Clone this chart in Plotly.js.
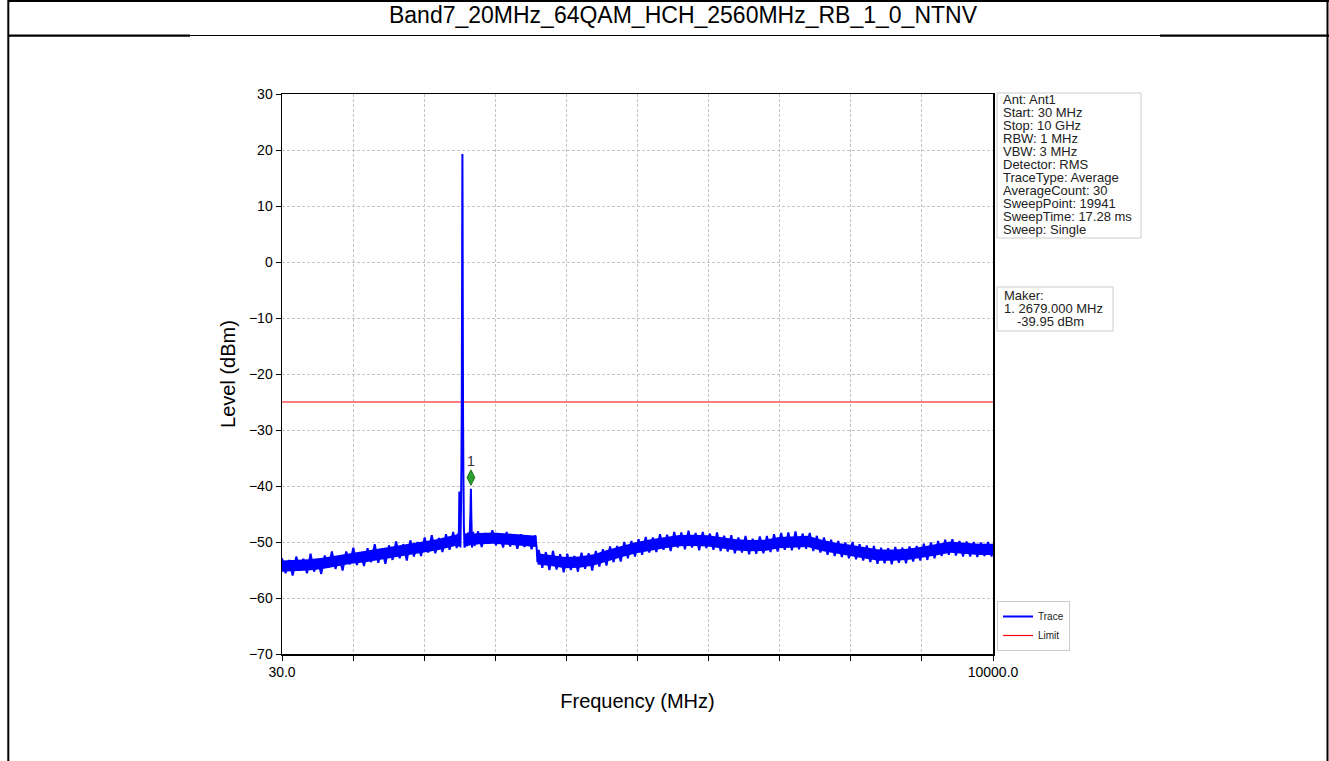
<!DOCTYPE html>
<html>
<head>
<meta charset="utf-8">
<script src="https://cdn.plot.ly/plotly-3.0.1.min.js"></script>
<style>
  html, body { margin: 0; padding: 0; background: #ffffff; }
  #chart { width: 1329px; height: 761px; }
</style>
</head>
<body>
<div id="chart"></div>
<script>
// ---------------- DATA ----------------
const chartTitle = 'Band7_20MHz_64QAM_HCH_2560MHz_RB_1_0_NTNV';

// Trace: noise floor, 30 MHz .. 2480 MHz (peak / valley readings)
const freqA = [30,80,130,180,230,280,330,380,430,480,
               530,580,630,680,730,780,830,880,930,980,
               1030,1080,1130,1180,1230,1280,1330,1380,1430,1480,
               1530,1580,1630,1680,1730,1780,1830,1880,1930,1980,
               2030,2080,2130,2180,2230,2280,2330,2380,2430,2480];
const levelA = [-52.9,-55.6,-53.2,-56.0,-52.6,-55.1,-53.0,-55.6,-52.1,-55.3,
                -53.2,-55.7,-52.4,-54.6,-51.7,-54.8,-52.6,-55.1,-51.7,-54.0,
                -51.0,-54.1,-51.9,-54.3,-51.1,-53.6,-50.4,-53.7,-51.2,-53.9,
                -50.6,-53.2,-49.9,-52.9,-50.4,-53.3,-49.7,-52.6,-50.0,-52.5,
                -49.2,-51.9,-48.8,-52.0,-49.3,-51.8,-48.6,-51.4,-48.2,-51.1];

// Trace: carrier region around 2560 MHz
const freqB = [2495,2505,2512,2517,2521,2526,2532,2540,2546,2551,
               2555,2558,2560,2562,2565,2569,2574,2580,2590,2605,
               2620,2635,2650,2662,2672,2679,2685,2695,2710];
const levelB = [-48.5,-50.8,-47.0,-41.0,-41.2,-46.5,-51.0,-44.0,-36.0,-25.0,
                -5.0,12.0,19.3,10.0,-8.0,-28.0,-38.0,-47.0,-51.0,-48.5,
                -50.8,-48.3,-50.6,-48.6,-45.0,-40.5,-45.5,-51.0,-48.2];

// Trace: 2730 MHz .. step near 3605 MHz
const freqC = [2730,2780,2830,2880,2930,2980,3030,3080,3130,3180,
               3230,3280,3330,3380,3430,3480,3530,3580,3600,3612];
const levelC = [-50.7,-48.1,-50.9,-48.4,-50.3,-47.9,-50.6,-48.5,-51.0,-48.2,
                -50.8,-48.7,-51.2,-48.6,-50.9,-48.9,-51.3,-48.8,-50.9,-53.6];

// Trace: 3630 MHz .. 10000 MHz
const freqD = [3630,3680,3730,3780,3830,3880,3930,3980,4030,4080,
               4130,4180,4230,4280,4330,4380,4430,4480,4530,4580,
               4630,4680,4730,4780,4830,4880,4930,4980,5030,5080,
               5130,5180,5230,5280,5330,5380,5430,5480,5530,5580,
               5630,5680,5730,5780,5830,5880,5930,5980,6030,6080,
               6130,6180,6230,6280,6330,6380,6430,6480,6530,6580,
               6630,6680,6730,6780,6830,6880,6930,6980,7030,7080,
               7130,7180,7230,7280,7330,7380,7430,7480,7530,7580,
               7630,7680,7730,7780,7830,7880,7930,7980,8030,8080,
               8130,8180,8230,8280,8330,8380,8430,8480,8530,8580,
               8630,8680,8730,8780,8830,8880,8930,8980,9030,9080,
               9130,9180,9230,9280,9330,9380,9430,9480,9530,9580,
               9630,9680,9730,9780,9830,9880,9930,9980,10000];
const levelD = [-51.4,-54.6,-51.8,-55.0,-51.6,-54.9,-52.2,-55.4,-52.1,-55.0,
                -52.5,-55.3,-51.9,-54.8,-52.0,-55.1,-51.6,-54.4,-51.3,-54.2,
                -50.8,-53.6,-50.7,-53.5,-50.0,-52.9,-49.8,-52.6,-49.5,-52.3,
                -49.1,-51.9,-49.2,-51.8,-48.6,-51.4,-48.7,-51.6,-48.2,-51.0,
                -48.3,-51.3,-48.0,-51.0,-48.4,-51.5,-48.2,-51.1,-48.5,-51.4,
                -48.3,-51.6,-48.9,-51.7,-48.8,-52.0,-49.2,-51.9,-48.9,-52.2,
                -49.4,-52.1,-49.0,-52.0,-48.9,-51.8,-48.6,-51.7,-48.4,-51.4,
                -48.3,-51.5,-48.1,-51.3,-48.5,-51.2,-48.4,-51.6,-48.9,-51.9,
                -49.2,-52.3,-49.6,-52.5,-49.8,-52.7,-50.1,-52.9,-50.0,-53.1,
                -50.4,-53.3,-50.6,-53.6,-50.7,-53.9,-51.0,-53.8,-51.1,-54.0,
                -50.9,-53.7,-51.0,-53.8,-50.8,-53.5,-50.7,-53.3,-50.3,-53.2,
                -50.1,-52.9,-49.8,-52.5,-49.6,-52.3,-49.5,-52.4,-49.8,-52.6,
                -49.9,-52.6,-50.0,-52.7,-50.1,-52.5,-50.0,-52.6,-51.0];

// Solid core of the noise band (upper / lower edge readings)
const bandFreq1  = [30,200,400,600,800,1000,1200,1400,1600,1800,2000,2200,2400,2500];
const bandUpper1 = [-53.3,-53.25,-53.1,-52.8,-52.4,-51.9,-51.6,-51.2,-50.8,-50.35,-49.9,-49.5,-48.9,-48.6];
const bandLower1 = [-55.3,-55.25,-55.1,-54.8,-54.4,-53.9,-53.6,-53.2,-52.8,-52.35,-51.9,-51.5,-50.9,-50.6];
const bandFreq2  = [2580,2800,3000,3200,3400,3600];
const bandUpper2 = [-48.7,-48.4,-48.3,-48.5,-48.7,-48.9];
const bandLower2 = [-50.7,-50.4,-50.3,-50.5,-50.7,-50.9];
const bandFreq3  = [3612,3800,4000,4200,4400,4600,4800,5000,5200,5400,5600,5800,6000,6200,6400,6600,
                    6800,7000,7200,7400,7600,7800,8000,8200,8400,8600,8800,9000,9200,9400,9600,9800,10000];
const bandUpper3 = [-52.0,-52.3,-52.7,-52.6,-52.2,-51.4,-50.7,-50.0,-49.5,-49.1,-48.75,-48.7,-48.8,-49.15,-49.5,-49.65,
                    -49.6,-49.1,-49.0,-48.9,-49.6,-50.15,-50.5,-50.95,-51.35,-51.35,-51.2,-50.85,-50.4,-49.9,-50.15,-50.3,-50.3];
const bandLower3 = [-54.0,-54.3,-54.7,-54.6,-54.2,-53.4,-52.7,-52.0,-51.5,-51.1,-50.75,-50.7,-50.8,-51.15,-51.5,-51.65,
                    -51.6,-51.1,-51.0,-50.9,-51.6,-52.15,-52.5,-52.95,-53.35,-53.35,-53.2,-52.85,-52.4,-51.9,-52.15,-52.3,-52.3];

// Limit line
const limitFreq = [30, 10000];
const limitLevel = [-25, -25];

// Marker 1
const markerFreq = [2679];
const markerLevel = [-38.5];
const markerLabel = ['1'];

// Axis ticks
const xTickVals = [30, 1027, 2024, 3021, 4018, 5015, 6012, 7009, 8006, 9003, 10000];
const xTickText = ['30.0', '', '', '', '', '', '', '', '', '', '10000.0'];
const yTickVals = [-70, -60, -50, -40, -30, -20, -10, 0, 10, 20, 30];

// Info boxes
const infoLines = ['Ant: Ant1', 'Start: 30 MHz', 'Stop: 10 GHz', 'RBW: 1 MHz', 'VBW: 3 MHz',
                   'Detector: RMS', 'TraceType: Average', 'AverageCount: 30',
                   'SweepPoint: 19941', 'SweepTime: 17.28 ms', 'Sweep: Single'];
const makerLines = ['Maker:', '1. 2679.000 MHz', '-39.95 dBm'];

// ---------------- BUILD ----------------
const traceFreq = [].concat(freqA, freqB, freqC, freqD);
const traceLevel = [].concat(levelA, levelB, levelC, levelD);

// band polygons (upper forward, lower backward), segments separated by null
const bandX = [], bandY = [];
[[bandFreq1, bandUpper1, bandLower1], [bandFreq2, bandUpper2, bandLower2], [bandFreq3, bandUpper3, bandLower3]]
  .forEach(([f, u, l], k) => {
    if (k > 0) { bandX.push(null); bandY.push(null); }
    bandX.push(...f, ...f.slice().reverse());
    bandY.push(...u, ...l.slice().reverse());
  });

// pixel geometry helpers (plot area 282..993 x 94..654)
const L = 282, R = 993, T = 94, B = 654;
const W = 1329, H = 761;
const px = x => (x - L) / (R - L);
const py = y => (B - y) / (B - T);

const FONT = 'Liberation Sans, Arial, Helvetica, sans-serif';
const BLUE = '#0000ff';

const traces = [
  {
    x: limitFreq, y: limitLevel, type: 'scatter', mode: 'lines',
    name: 'Limit', line: { color: '#ff0000', width: 1.2 }, hoverinfo: 'skip'
  },
  {
    x: bandX, y: bandY, type: 'scatter', mode: 'lines', fill: 'toself',
    fillcolor: BLUE, line: { width: 0, color: BLUE }, connectgaps: false,
    legendgroup: 'trace', showlegend: false, hoverinfo: 'skip'
  },
  {
    x: traceFreq, y: traceLevel, type: 'scatter', mode: 'lines',
    name: 'Trace', legendgroup: 'trace',
    line: { color: BLUE, width: 2, simplify: false }, hoverinfo: 'skip'
  },
  {
    x: markerFreq, y: markerLevel, type: 'scatter', mode: 'markers+text',
    text: markerLabel, textposition: 'top center',
    textfont: { family: FONT, size: 14, color: '#333333' },
    marker: { symbol: 'diamond-tall', size: 11, color: '#2ca02c', line: { color: '#1a6e1a', width: 1 } },
    showlegend: false, hoverinfo: 'skip', cliponaxis: false
  }
];

const shapes = [];
const annotations = [];

// document-table frame
const frameLine = (x0, y0, x1, y1, w) => shapes.push({
  type: 'line', xref: 'paper', yref: 'paper',
  x0: px(x0), y0: py(y0), x1: px(x1), y1: py(y1),
  line: { color: '#000000', width: w }
});
frameLine(8.3, 0, 8.3, H, 2);
frameLine(1327.5, 0, 1327.5, H, 2);
frameLine(8, 1, W, 1, 2);
frameLine(8, 35.7, 190, 35.7, 2.2);
frameLine(190, 35.5, 1160, 35.5, 1.2);
frameLine(1160, 35.7, W, 35.7, 2.2);

// info box
shapes.push({
  type: 'rect', xref: 'paper', yref: 'paper',
  x0: px(997), x1: px(1141), y0: py(238), y1: py(93),
  line: { color: '#cccccc', width: 1 }, fillcolor: 'rgba(255,255,255,0.9)'
});
infoLines.forEach((t, i) => annotations.push({
  xref: 'paper', yref: 'paper', x: px(1001), y: py(100 + 12.9 * i),
  xanchor: 'left', yanchor: 'middle', showarrow: false, text: t,
  font: { family: FONT, size: 13, color: '#222222' }
}));

// maker box
shapes.push({
  type: 'rect', xref: 'paper', yref: 'paper',
  x0: px(997), x1: px(1113), y0: py(331), y1: py(287),
  line: { color: '#cccccc', width: 1 }, fillcolor: 'rgba(255,255,255,0.9)'
});
makerLines.forEach((t, i) => annotations.push({
  xref: 'paper', yref: 'paper', x: px(i === 2 ? 1015 : 1002), y: py(295 + 13 * i),
  xanchor: 'left', yanchor: 'middle', showarrow: false, text: t,
  font: { family: FONT, size: 13, color: '#222222' }
}));

const layout = {
  width: W, height: H,
  paper_bgcolor: '#ffffff', plot_bgcolor: '#ffffff',
  margin: { l: L, r: W - R, t: T, b: H - B, pad: 0 },
  font: { family: FONT, color: '#000000' },
  title: {
    text: chartTitle, xref: 'container', yref: 'container',
    x: 683 / W, xanchor: 'center', y: 1 - 15 / H, yanchor: 'middle',
    font: { family: FONT, size: 23, color: '#000000' }
  },
  showlegend: true,
  legend: {
    x: px(997), xanchor: 'left', y: py(651), yanchor: 'bottom',
    bgcolor: 'rgba(255,255,255,0.9)', bordercolor: '#cccccc', borderwidth: 1,
    font: { family: FONT, size: 10, color: '#222222' },
    traceorder: 'reversed', itemwidth: 30
  },
  xaxis: {
    range: [30, 10000], tickmode: 'array', tickvals: xTickVals, ticktext: xTickText,
    ticks: 'outside', ticklen: 5, tickwidth: 1, tickcolor: '#000000',
    showline: true, linecolor: '#000000', linewidth: 1.5, mirror: true,
    showgrid: true, gridcolor: '#c4c4c4', gridwidth: 1, griddash: '3px,2px',
    zeroline: false, automargin: true,
    tickfont: { family: FONT, size: 14, color: '#000000' },
    title: { text: 'Frequency (MHz)', standoff: 14, font: { family: FONT, size: 20, color: '#000000' } }
  },
  yaxis: {
    range: [-70, 30], tickmode: 'array', tickvals: yTickVals,
    ticks: 'outside', ticklen: 5, tickwidth: 1, tickcolor: '#000000',
    showline: true, linecolor: '#000000', linewidth: 1.5, mirror: true,
    showgrid: true, gridcolor: '#c4c4c4', gridwidth: 1, griddash: '3px,2px',
    zeroline: false, automargin: true,
    tickfont: { family: FONT, size: 14, color: '#000000' },
    title: { text: 'Level (dBm)', standoff: 8, font: { family: FONT, size: 20, color: '#000000' } }
  },
  shapes: shapes,
  annotations: annotations
};

Plotly.newPlot('chart', traces, layout, { displayModeBar: false, staticPlot: true });
</script>
</body>
</html>
